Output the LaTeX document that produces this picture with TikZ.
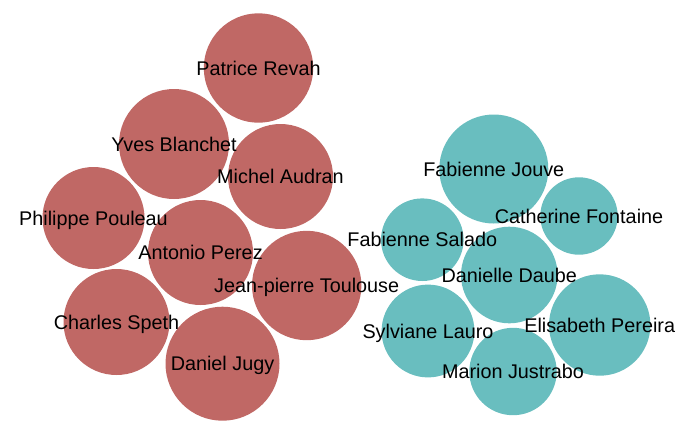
\documentclass[tikz,border=0pt]{standalone}
\usepackage{fontspec}
\setmainfont{Liberation Sans}
\definecolor{redb}{RGB}{192,104,101}
\definecolor{teal}{RGB}{105,190,191}
\begin{document}
\begin{tikzpicture}[x=1pt,y=-1pt,
  bub/.style={circle,inner sep=0pt,outer sep=0pt,minimum size=#1},
  rb/.style={bub=#1,fill=redb},
  tb/.style={bub=#1,fill=teal},
  lbl/.style={anchor=base,inner sep=0pt,font=\fontsize{19.8}{23}\selectfont,yshift=-7pt}]
\useasboundingbox (0,0) rectangle (692,432);
% red group
\node[rb=109.4pt] (c1) at (258.5,68) {};
\node[rb=110pt] (c2) at (174,144) {};
\node[rb=105pt] (c3) at (280.5,176.5) {};
\node[rb=102pt] (c4) at (93.5,218) {};
\node[rb=105pt] (c5) at (200.5,252.5) {};
\node[rb=109.4pt] (c6) at (306.7,285.5) {};
\node[rb=106pt] (c7) at (116.5,322) {};
\node[rb=114pt] (c8) at (222.5,363.7) {};
% teal group
\node[tb=109pt] (d1) at (493.8,169) {};
\node[tb=77.4pt] (d2) at (579,216) {};
\node[tb=82.6pt] (d3) at (422.3,239.7) {};
\node[tb=96.6pt] (d4) at (509.3,275) {};
\node[tb=92.8pt] (d5) at (428,331) {};
\node[tb=101.4pt] (d6) at (599.7,325) {};
\node[tb=87.4pt] (d7) at (513,371.5) {};
% labels
\node[lbl] (l1) at (c1.center) {Patrice Revah};
\node[lbl] (l2) at (c2.center) {Yves Blanchet};
\node[lbl] (l3) at (c3.center) {Michel Audran};
\node[lbl] (l4) at (c4.center) {Philippe Pouleau};
\node[lbl] (l5) at (c5.center) {Antonio Perez};
\node[lbl] (l6) at (c6.center) {Jean-pierre Toulouse};
\node[lbl] (l7) at (c7.center) {Charles Speth};
\node[lbl] (l8) at (c8.center) {Daniel Jugy};
\node[lbl] (m1) at (d1.center) {Fabienne Jouve};
\node[lbl] (m2) at (d2.center) {Catherine Fontaine};
\node[lbl] (m3) at (d3.center) {Fabienne Salado};
\node[lbl] (m4) at (d4.center) {Danielle Daube};
\node[lbl] (m5) at (d5.center) {Sylviane Lauro};
\node[lbl] (m6) at (d6.center) {Elisabeth Pereira};
\node[lbl] (m7) at (d7.center) {Marion Justrabo};
\end{tikzpicture}
\end{document}
